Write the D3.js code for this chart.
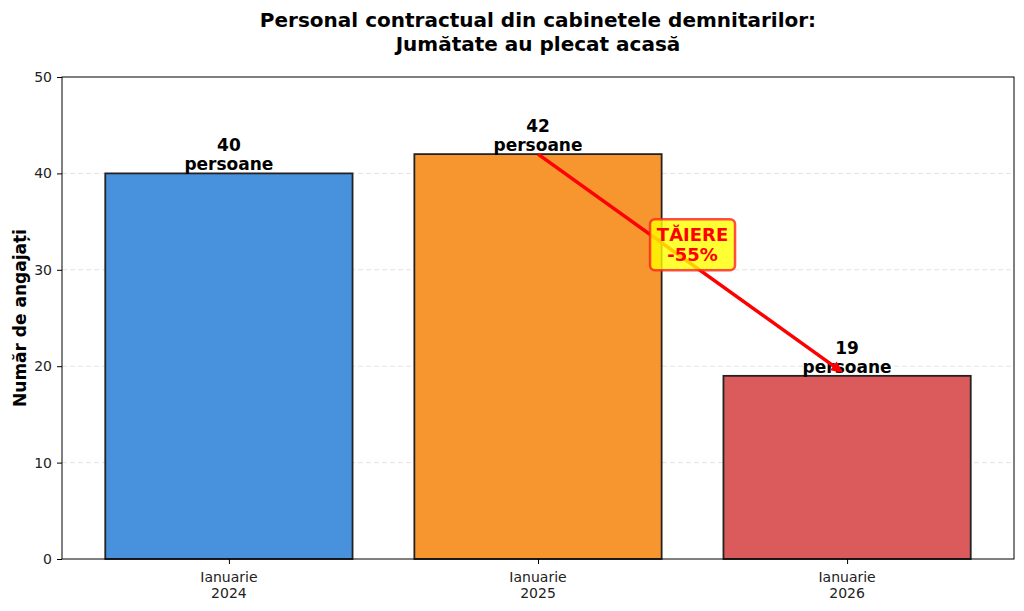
<!DOCTYPE html>
<html><head><meta charset="utf-8">
<script src="https://cdn.jsdelivr.net/npm/d3@7"></script>
<style>body{margin:0;background:#fff}svg{font-family:"DejaVu Sans",sans-serif}</style>
</head><body><svg id="c" width="1024" height="611"></svg>
<script>
const categories = [["Ianuarie","2024"],["Ianuarie","2025"],["Ianuarie","2026"]];
const values = [40, 42, 19];
const colors = ["#4891DC", "#F7962F", "#DB5A5C"];
const yTicks = [0,10,20,30,40,50];
const titleLines = ["Personal contractual din cabinetele demnitarilor:", "Jumătate au plecat acasă"];
const yLabel = "Număr de angajați";
const unitLabel = "persoane";
const cutLabel = ["TĂIERE", "-55%"];

const svg = d3.select("#c");
const L=62, R=1014, T=77, B=559;
const x = d3.scaleLinear().domain([-0.54, 2.54]).range([L, R]);
const y = d3.scaleLinear().domain([0, 50]).range([B, T]);
const bw = x(0.4) - x(-0.4);

// grid
svg.append("g").selectAll("line").data(yTicks.filter(d=>d>0&&d<50)).join("line")
  .attr("x1",L).attr("x2",R).attr("y1",d=>y(d)).attr("y2",d=>y(d))
  .attr("stroke","#b0b0b0").attr("stroke-opacity",0.35).attr("stroke-dasharray","5,3").attr("stroke-width",1);

// bars
svg.append("g").selectAll("rect").data(values).join("rect")
  .attr("x",(d,i)=>x(i)-bw/2).attr("width",bw)
  .attr("y",d=>y(d)).attr("height",d=>B-y(d))
  .attr("fill",(d,i)=>colors[i]).attr("stroke","#222").attr("stroke-width",1.8);

// value labels
const vl = svg.append("g").attr("font-weight","bold").attr("font-size",17).attr("text-anchor","middle").attr("fill","#000");
values.forEach((v,i)=>{
  vl.append("text").attr("x",x(i)).attr("y",y(v)-22).text(v);
  vl.append("text").attr("x",x(i)).attr("y",y(v)-3).text(unitLabel);
});

// axes frame
svg.append("rect").attr("x",L).attr("y",T).attr("width",R-L).attr("height",B-T).attr("fill","none").attr("stroke","#000").attr("stroke-width",1);

// y axis
const ya = svg.append("g").attr("transform",`translate(${L},0)`)
  .call(d3.axisLeft(y).tickValues(yTicks).tickSize(5).tickPadding(5));
ya.select(".domain").remove();
ya.selectAll("text").attr("font-size",14).attr("font-family","DejaVu Sans").attr("fill","#222");
ya.selectAll("line").attr("stroke","#000");

// x axis
const xa = svg.append("g").attr("transform",`translate(0,${B})`)
  .call(d3.axisBottom(x).tickValues([0,1,2]).tickSize(5).tickFormat(""));
xa.select(".domain").remove();
xa.selectAll("line").attr("stroke","#000");
categories.forEach((c,i)=>{
  c.forEach((s,j)=>{
    svg.append("text").attr("x",x(i)).attr("y",582+j*16).attr("text-anchor","middle")
      .attr("font-size",14).attr("fill","#222").text(s);
  });
});

// y label
svg.append("text").attr("transform",`translate(26,${(T+B)/2}) rotate(-90)`).attr("text-anchor","middle")
  .attr("font-weight","bold").attr("font-size",17).text(yLabel);

// title
titleLines.forEach((s,i)=>{
  svg.append("text").attr("x",538).attr("y",27+i*24).attr("text-anchor","middle")
    .attr("font-weight","bold").attr("font-size",20).text(s);
});

// arrow
const x1=x(1), y1=y(42), x2=x(2)-4, y2=y(19)-3;
const ang = Math.atan2(y2-y1, x2-x1);
svg.append("line").attr("x1",x1).attr("y1",y1).attr("x2",x2-8*Math.cos(ang)).attr("y2",y2-8*Math.sin(ang))
  .attr("stroke","#ff0000").attr("stroke-width",3.5);
const hl=12, hw=5.5;
const bx=x2-hl*Math.cos(ang), by=y2-hl*Math.sin(ang);
svg.append("path").attr("d",`M${x2},${y2}L${bx+hw*Math.sin(ang)},${by-hw*Math.cos(ang)}L${bx-hw*Math.sin(ang)},${by+hw*Math.cos(ang)}Z`)
  .attr("fill","#ff0000");

// cut box
const cx = x(1.5), cy = y(32.6);
svg.append("rect").attr("x",cx-42.5).attr("y",cy-25.5).attr("width",85).attr("height",51).attr("rx",5)
  .attr("fill","#ffff00").attr("fill-opacity",0.8).attr("stroke","#ff2020").attr("stroke-opacity",0.8).attr("stroke-width",2.5);
cutLabel.forEach((s,i)=>{
  svg.append("text").attr("x",cx).attr("y",cy-3.5+i*20).attr("text-anchor","middle")
    .attr("font-weight","bold").attr("font-size",18).attr("fill","#ff0000").text(s);
});
</script></body></html>
